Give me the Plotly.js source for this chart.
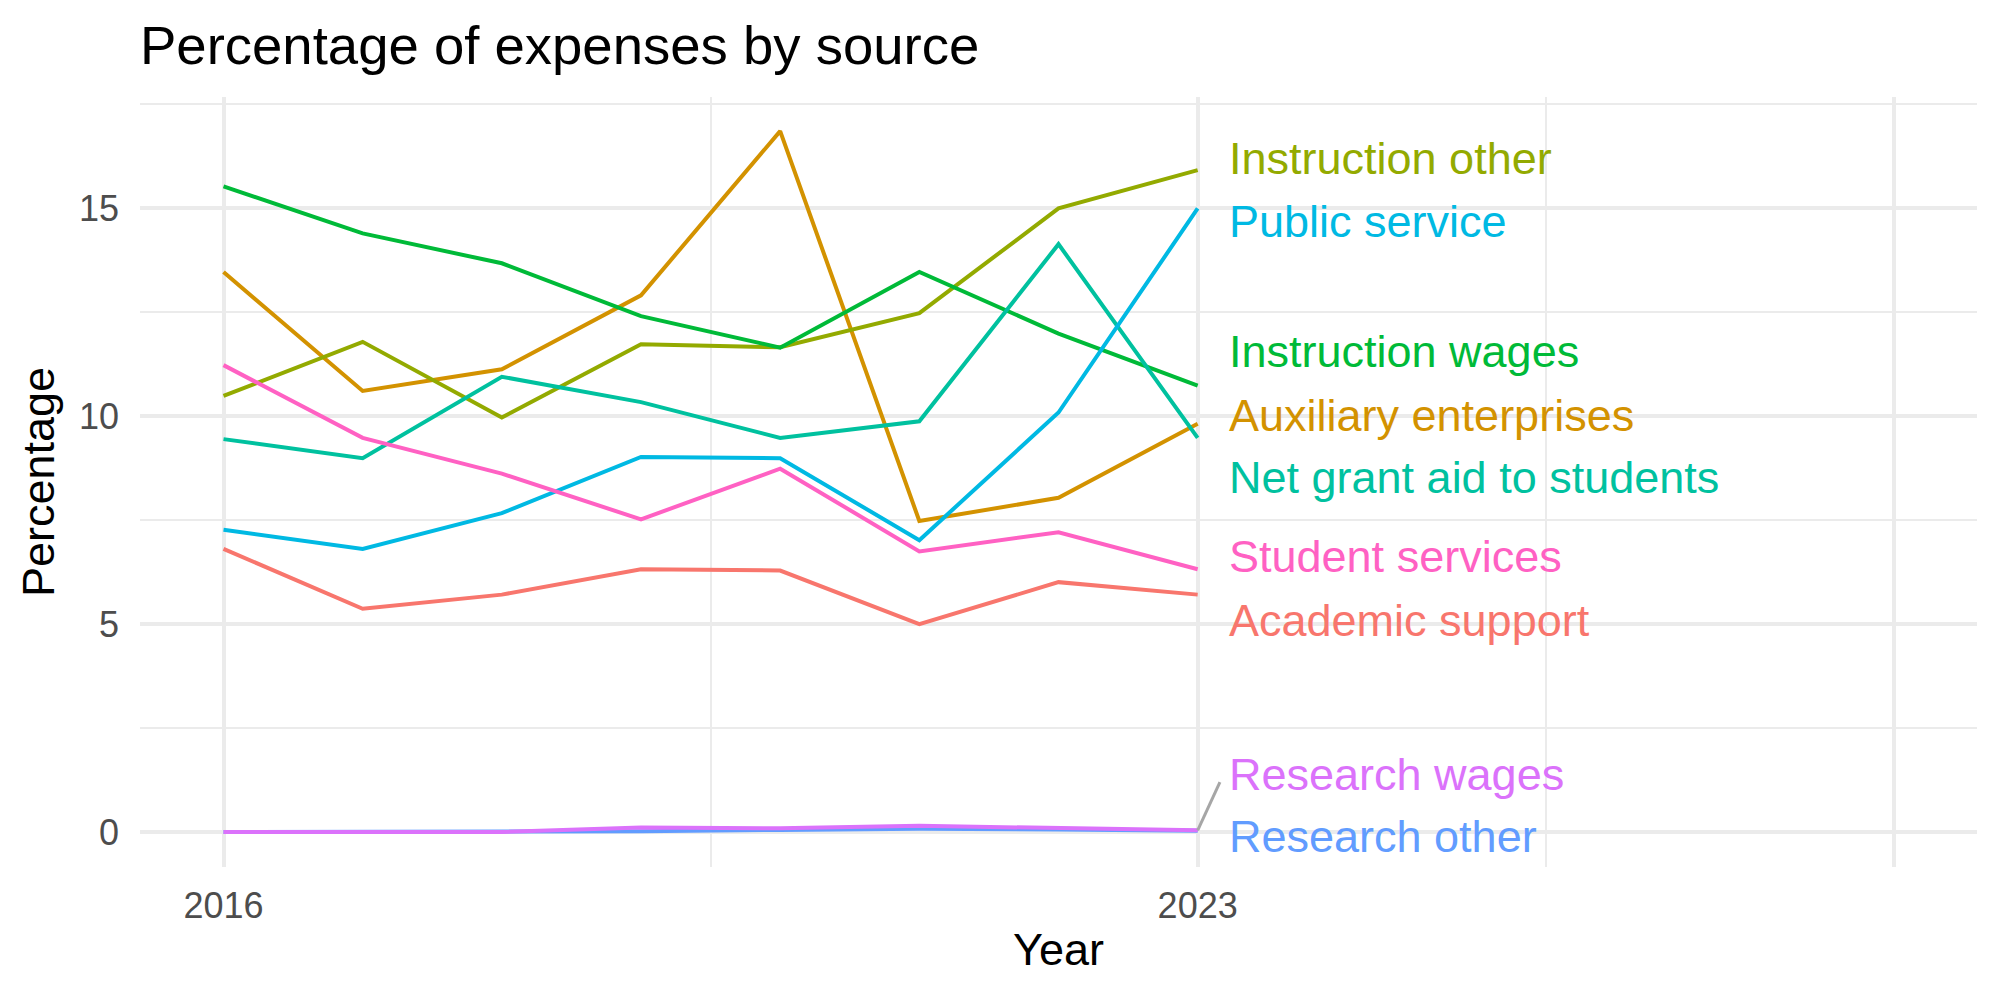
<!DOCTYPE html>
<html>
<head>
<meta charset="utf-8">
<script src="https://cdn.plot.ly/plotly-3.0.1.min.js"></script>
<style>html,body{margin:0;padding:0;background:#fff;}#chart{width:2000px;height:1000px;}</style>
</head>
<body>
<div id="chart"></div>
<script>
// ---- data ----
const years = [2016, 2017, 2018, 2019, 2020, 2021, 2022, 2023];
const categories = [
  "Academic support", "Auxiliary enterprises", "Instruction other", "Instruction wages",
  "Net grant aid to students", "Public service", "Research other", "Research wages", "Student services"
];
const academicSupport     = [6.81, 5.37, 5.71, 6.32, 6.29, 5.00, 6.01, 5.71];
const auxiliaryEnterprises= [13.47, 10.61, 11.13, 12.91, 16.86, 7.48, 8.04, 9.82];
const instructionOther    = [10.49, 11.79, 9.97, 11.73, 11.66, 12.48, 15.00, 15.92];
const instructionWages    = [15.53, 14.40, 13.68, 12.41, 11.65, 13.47, 11.99, 10.74];
const netGrantAid         = [9.45, 8.99, 10.95, 10.34, 9.48, 9.88, 14.14, 9.48];
const publicService       = [7.27, 6.81, 7.67, 9.02, 8.99, 7.02, 10.09, 15.00];
const researchOther       = [0.00, 0.00, 0.00, 0.02, 0.05, 0.08, 0.06, 0.03];
const researchWages       = [0.00, 0.00, 0.00, 0.11, 0.09, 0.15, 0.09, 0.04];
const studentServices     = [11.23, 9.48, 8.62, 7.52, 8.74, 6.75, 7.21, 6.32];
const xTickLabels = ["2016", "2023", ""];
const xTickValues = [2016, 2023, 2028];
const yTickValues = [0, 5, 10, 15];
const yTickLabels = ["0", "5", "10", "15"];

// ---- styling (separate from data) ----
const colors = ["#F8766D", "#D39200", "#93AA00", "#00BA38", "#00C19F", "#00B9E3", "#619CFF", "#DB72FB", "#FF61C3"];
const seriesValues = [academicSupport, auxiliaryEnterprises, instructionOther, instructionWages,
  netGrantAid, publicService, researchOther, researchWages, studentServices];
// repelled label positions (layout)
const labelY = [5.09, 10.02, 16.21, 11.55, 8.52, 14.68, -0.12, 1.38, 6.62];
const labelX = 2023.21;
const FONT = "'Liberation Sans', Arial, Helvetica, sans-serif";

const traces = categories.map((c, i) => ({
  type: "scatter", mode: "lines", name: c,
  x: years, y: seriesValues[i],
  line: {color: colors[i], width: 4},
  hoverinfo: "skip", showlegend: false
}));

const annotations = categories.map((c, i) => ({
  x: labelX, y: labelY[i], xref: "x", yref: "y",
  text: c, showarrow: false, xanchor: "left", yanchor: "middle",
  font: {family: FONT, size: 45, color: colors[i]}
}));

// connector for the repelled "Research wages" label
const lastIdx = years.length - 1;
const shapes = [{
  type: "line", xref: "x", yref: "y",
  x0: years[lastIdx], y0: researchWages[lastIdx],
  x1: labelX - 0.05, y1: labelY[7] - 0.18,
  line: {color: "#A6A6A6", width: 3}
}];

const layout = {
  width: 2000, height: 1000, autosize: false,
  paper_bgcolor: "#fff", plot_bgcolor: "#fff",
  margin: {l: 140, r: 23, t: 97, b: 133, pad: 0},
  font: {family: FONT, color: "#000"},
  title: {
    text: "Percentage of expenses by source",
    font: {family: FONT, size: 54.5, color: "#000"},
    xref: "container", yref: "container", x: 0.07, xanchor: "left", y: 0.955, yanchor: "middle"
  },
  xaxis: {
    range: [2015.4, 2028.6], tickmode: "array", tickvals: xTickValues, ticktext: xTickLabels,
    showgrid: true, gridcolor: "#EBEBEB", gridwidth: 4, zeroline: false, showline: false,
    ticks: "", ticklabelstandoff: 14,
    tickfont: {family: FONT, size: 36, color: "#4D4D4D"},
    minor: {tickmode: "array", tickvals: [2019.5, 2025.5], showgrid: true, gridcolor: "#EBEBEB", gridwidth: 2, ticks: ""},
    title: {text: "Year", font: {family: FONT, size: 45, color: "#000"}, standoff: 8},
    automargin: false, fixedrange: true
  },
  yaxis: {
    range: [-0.842, 17.68], tickmode: "array", tickvals: yTickValues, ticktext: yTickLabels,
    showgrid: true, gridcolor: "#EBEBEB", gridwidth: 4, zeroline: false, showline: false,
    ticks: "", ticklabelstandoff: 20,
    tickfont: {family: FONT, size: 36, color: "#4D4D4D"},
    minor: {tickmode: "array", tickvals: [2.5, 7.5, 12.5, 17.5], showgrid: true, gridcolor: "#EBEBEB", gridwidth: 2, ticks: ""},
    title: {text: "Percentage", font: {family: FONT, size: 45, color: "#000"}, standoff: 10},
    automargin: false, fixedrange: true
  },
  annotations: annotations,
  shapes: shapes,
  showlegend: false
};

Plotly.newPlot("chart", traces, layout, {displayModeBar: false, staticPlot: true});
</script>
</body>
</html>
